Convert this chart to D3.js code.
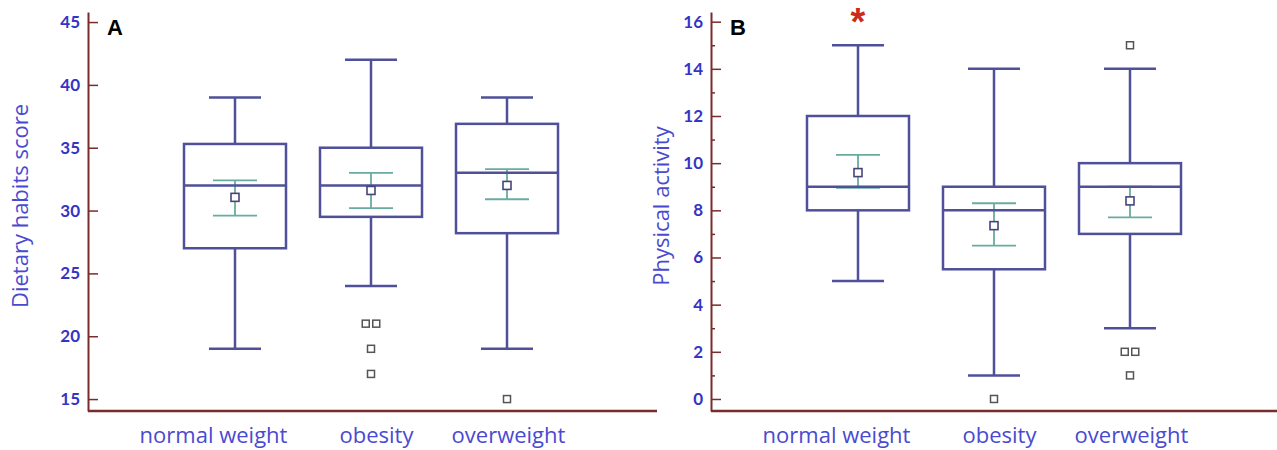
<!DOCTYPE html>
<html>
<head>
<meta charset="utf-8">
<script src="https://cdn.jsdelivr.net/npm/d3@7"></script>
<style>
  body { margin: 0; background: #fff; }
  svg { display: block; }
</style>
</head>
<body>
<div id="chart"></div>
<script>
// categories shared by both panels
const categories = ['normal weight', 'obesity', 'overweight'];

// panel A : dietary habits score
const dietTicks = [15, 20, 25, 30, 35, 40, 45];
const dietWhiskerLow = [19, 24, 19];
const dietQ1 = [27, 29.5, 28.2];
const dietMedian = [32, 32, 33];
const dietQ3 = [35.3, 35, 36.9];
const dietWhiskerHigh = [39, 42, 39];
const dietMean = [31.05, 31.6, 32.0];
const dietCiLow = [29.6, 30.2, 30.9];
const dietCiHigh = [32.4, 33.0, 33.3];
const dietOutliers = [[], [21, 21, 19, 17], [15]];

// panel B : physical activity
const actTicks = [0, 2, 4, 6, 8, 10, 12, 14, 16];
const actMinorTicks = [1, 3, 5, 7, 9, 11, 13, 15];
const actWhiskerLow = [5, 1, 3];
const actQ1 = [8, 5.5, 7];
const actMedian = [9, 8, 9];
const actQ3 = [12, 9, 10];
const actWhiskerHigh = [15, 14, 14];
const actMean = [9.6, 7.35, 8.4];
const actCiLow = [8.95, 6.5, 7.7];
const actCiHigh = [10.35, 8.3, 9.0];
const actOutliers = [[], [0], [15, 2, 2, 1]];
const actSignificant = ['normal weight'];

const W = 1277, H = 450;
const BOX_COLOR = '#4f4f9a';
const CI_COLOR = '#68ab9f';
const AXIS_COLOR = '#7a2b2b';
const TICK_COLOR = '#3434c6';
const TITLE_COLOR = '#4a4ad0';
const labelShift = [-22, 5, 1];   // category labels are not exactly under the boxes

const svg = d3.select('#chart').append('svg')
	.attr('width', W)
	.attr('height', H);

const drawPanel = (p) => {
	const g = svg.append('g');

	const y = d3.scaleLinear().domain(p.yDomain).range([411, 12]);
	const x = d3.scalePoint().domain(categories).range([p.axisX + 147, p.axisX + 147 + 272]);

	// y axis (ticks point inward)
	const yAxis = g.append('g')
		.attr('transform', 'translate(' + p.axisX + ',0)')
		.call(d3.axisLeft(y).tickValues(p.ticks).tickSize(-10).tickSizeOuter(0).tickPadding(8));
	yAxis.select('.domain').attr('stroke', AXIS_COLOR).attr('stroke-width', 2);
	yAxis.selectAll('.tick line').attr('stroke', AXIS_COLOR).attr('stroke-width', 1.5);
	yAxis.selectAll('.tick text')
		.attr('fill', TICK_COLOR)
		.style('font-family', 'Lato, "Open Sans", sans-serif')
		.style('font-weight', 'bold')
		.style('font-size', '17px');

	if (p.minorTicks) {
		const minor = g.append('g')
			.attr('transform', 'translate(' + p.axisX + ',0)')
			.call(d3.axisLeft(y).tickValues(p.minorTicks).tickSize(-4).tickFormat(''));
		minor.select('.domain').remove();
		minor.selectAll('.tick line').attr('stroke', AXIS_COLOR).attr('stroke-width', 1.5);
	}

	// x axis line
	g.append('line')
		.attr('x1', p.axisX).attr('x2', p.xEnd)
		.attr('y1', 411).attr('y2', 411)
		.attr('stroke', AXIS_COLOR)
		.attr('stroke-width', 2.5);

	// category labels
	const xAxis = g.append('g')
		.attr('transform', 'translate(0,411)')
		.call(d3.axisBottom(x).tickSize(0).tickPadding(16));
	xAxis.select('.domain').remove();
	xAxis.selectAll('.tick text')
		.attr('fill', TITLE_COLOR)
		.attr('dx', (d, i) => labelShift[i])
		.style('font-family', '"Open Sans", Lato, sans-serif')
		.style('font-size', '22px');

	// y title
	g.append('text')
		.attr('transform', 'translate(' + p.titleX + ',206) rotate(-90)')
		.attr('text-anchor', 'middle')
		.attr('fill', TITLE_COLOR)
		.style('font-family', '"Open Sans", Lato, sans-serif')
		.style('font-size', '22px')
		.text(p.title);

	// panel letter
	g.append('text')
		.attr('x', p.axisX + 19)
		.attr('y', 35)
		.style('font-family', '"Liberation Sans", Arial, sans-serif')
		.style('font-weight', 'bold')
		.style('font-size', '22px')
		.text(p.letter);

	const boxW = 102, capW = 52, ciW = 44;

	categories.forEach((c, i) => {
		const cx = x(c);
		const b = g.append('g');
		// whiskers
		b.append('line')
			.attr('x1', cx).attr('x2', cx)
			.attr('y1', y(p.q3[i])).attr('y2', y(p.hi[i]));
		b.append('line')
			.attr('x1', cx).attr('x2', cx)
			.attr('y1', y(p.q1[i])).attr('y2', y(p.lo[i]));
		b.append('line')
			.attr('x1', cx - capW / 2).attr('x2', cx + capW / 2)
			.attr('y1', y(p.hi[i])).attr('y2', y(p.hi[i]));
		b.append('line')
			.attr('x1', cx - capW / 2).attr('x2', cx + capW / 2)
			.attr('y1', y(p.lo[i])).attr('y2', y(p.lo[i]));
		// box
		b.append('rect')
			.attr('x', cx - boxW / 2)
			.attr('y', y(p.q3[i]))
			.attr('width', boxW)
			.attr('height', y(p.q1[i]) - y(p.q3[i]))
			.attr('fill', 'none');
		b.selectAll('line, rect')
			.attr('stroke', BOX_COLOR)
			.attr('stroke-width', 2.5);

		// confidence interval of the mean
		const ci = g.append('g').attr('stroke', CI_COLOR).attr('stroke-width', 1.8);
		ci.append('line')
			.attr('x1', cx).attr('x2', cx)
			.attr('y1', y(p.ciHi[i])).attr('y2', y(p.ciLo[i]));
		ci.append('line')
			.attr('x1', cx - ciW / 2).attr('x2', cx + ciW / 2)
			.attr('y1', y(p.ciHi[i])).attr('y2', y(p.ciHi[i]));
		ci.append('line')
			.attr('x1', cx - ciW / 2).attr('x2', cx + ciW / 2)
			.attr('y1', y(p.ciLo[i])).attr('y2', y(p.ciLo[i]));

		// median drawn over the CI
		g.append('line')
			.attr('x1', cx - boxW / 2).attr('x2', cx + boxW / 2)
			.attr('y1', y(p.median[i])).attr('y2', y(p.median[i]))
			.attr('stroke', BOX_COLOR)
			.attr('stroke-width', 2.5);

		// mean marker
		g.append('rect')
			.attr('x', cx - 4).attr('y', y(p.mean[i]) - 4)
			.attr('width', 8).attr('height', 8)
			.attr('fill', '#fff')
			.attr('stroke', '#45457a')
			.attr('stroke-width', 1.6);

		// outliers, equal values sit side by side
		const counts = d3.rollup(p.outliers[i], v => v.length, d => d);
		const seen = new Map();
		p.outliers[i].forEach((v) => {
			const n = counts.get(v);
			const k = seen.get(v) || 0;
			seen.set(v, k + 1);
			const ox = cx + (k - (n - 1) / 2) * 10.5;
			g.append('rect')
				.attr('x', ox - 3.5).attr('y', y(v) - 3.5)
				.attr('width', 7).attr('height', 7)
				.attr('fill', '#fff')
				.attr('stroke', '#555')
				.attr('stroke-width', 1.5);
		});

		if (p.significant && p.significant.indexOf(c) > -1) {
			g.append('text')
				.attr('x', cx)
				.attr('y', y(p.hi[i]) - 10)
				.attr('text-anchor', 'middle')
				.attr('fill', '#cc2a1c')
				.style('font-family', '"Liberation Sans", Arial, sans-serif')
				.style('font-weight', 'bold')
				.style('font-size', '38px')
				.text('*');
		}
	});
};

drawPanel({
	letter: 'A', title: 'Dietary habits score',
	axisX: 88, xEnd: 657, titleX: 28,
	yDomain: [14.05, 45.8], ticks: dietTicks,
	lo: dietWhiskerLow, q1: dietQ1, median: dietMedian, q3: dietQ3, hi: dietWhiskerHigh,
	mean: dietMean, ciLo: dietCiLow, ciHi: dietCiHigh, outliers: dietOutliers
});

drawPanel({
	letter: 'B', title: 'Physical activity',
	axisX: 711, xEnd: 1277, titleX: 669,
	yDomain: [-0.51, 16.41], ticks: actTicks, minorTicks: actMinorTicks,
	lo: actWhiskerLow, q1: actQ1, median: actMedian, q3: actQ3, hi: actWhiskerHigh,
	mean: actMean, ciLo: actCiLow, ciHi: actCiHigh, outliers: actOutliers,
	significant: actSignificant
});
</script>
</body>
</html>
